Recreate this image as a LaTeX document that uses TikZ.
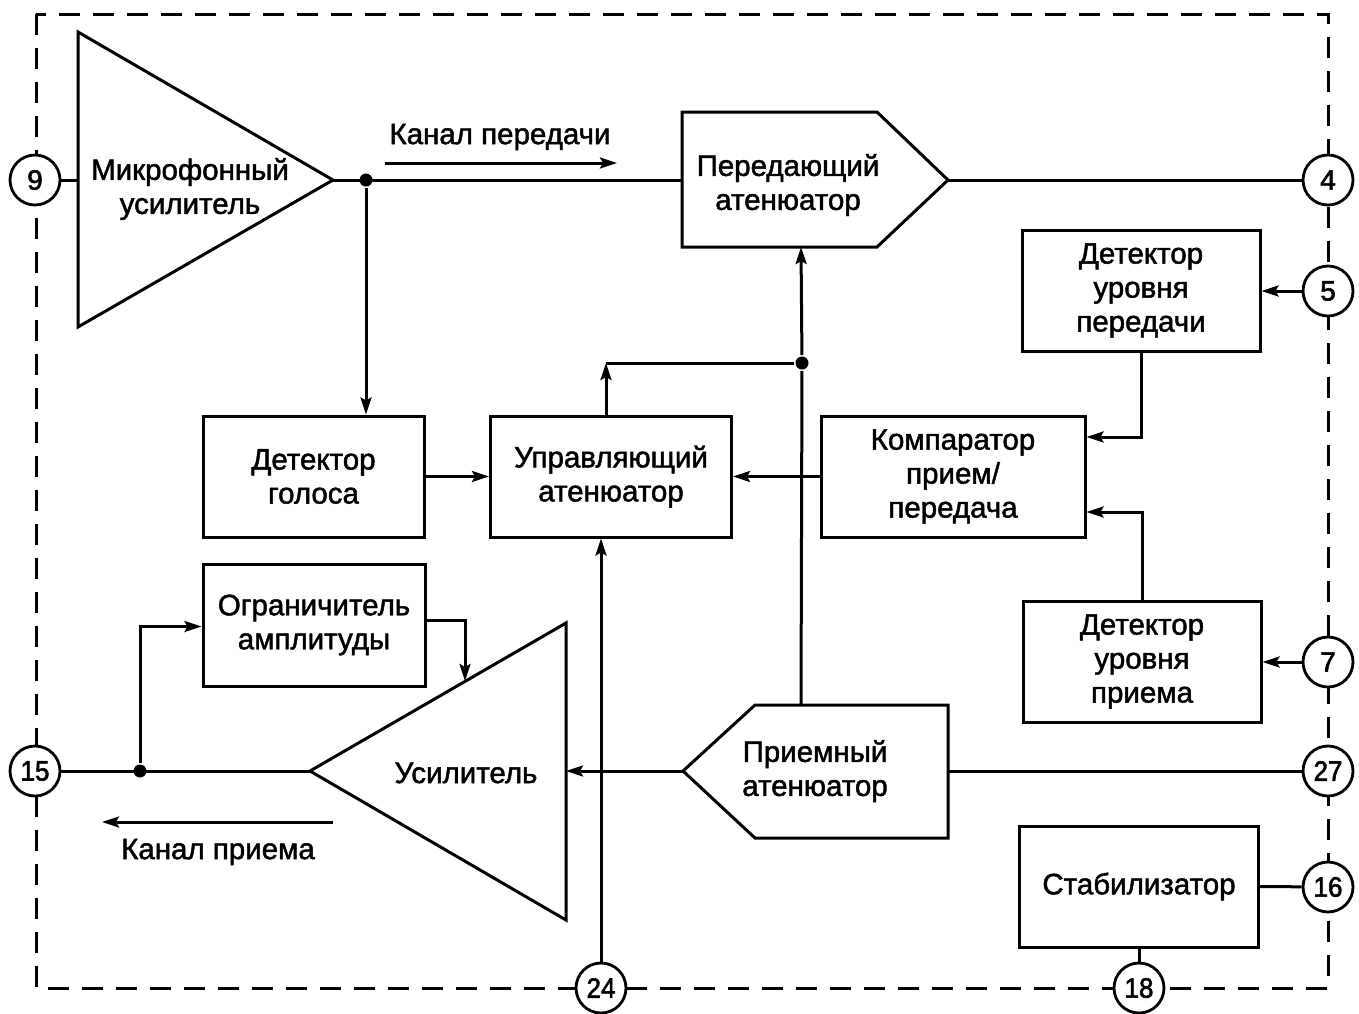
\documentclass[tikz,border=0pt]{standalone}
\usepackage{fontspec}
\setmainfont{Liberation Sans}[FakeBold=1.6]
\usetikzlibrary{arrows.meta,calc}
\newcommand{\blkfont}{\fontsize{29.5}{34}\selectfont}
\newcommand{\pinfont}{\fontsize{28}{30}\selectfont\addfontfeature{FakeBold=2.2}}
\newcommand{\nn}[1]{\scalebox{0.93}[1]{#1}}
\begin{document}
\begin{tikzpicture}[x=1pt,y=-1pt,
  line width=3pt, line join=miter,
  >={Stealth[length=17pt,width=11pt,inset=3pt]},
  blk/.style={draw, rectangle, inner sep=0pt, align=center, font=\blkfont},
  lbl/.style={inner sep=0pt, align=center, font=\blkfont},
  pinc/.style={draw, circle, fill=white, minimum size=50pt, inner sep=0pt, line width=2.8pt, font=\pinfont},
  jdot/.style={circle, fill=black, minimum size=13pt, inner sep=0pt},
  frame/.style={dash pattern=on 21pt off 13pt, line width=3pt},
]
\useasboundingbox (0,0) rectangle (1359,1013);

% dashed border
\draw[frame] (36,14) rectangle (1328,988);

% microphone amplifier
\draw (78,32) -- (333,180) -- (78,327) -- cycle;
\coordinate (micW) at (78,180);
\coordinate (micTip) at (333,180);
\node[lbl] (micL) at (190,189) {Микрофонный\\усилитель};

% transmit attenuator
\draw (682,112) -- (877,112) -- (948,180) -- (877,247) -- (682,247) -- cycle;
\coordinate (txW) at (682,180);
\coordinate (txTip) at (948,180);
\coordinate (txB) at (801,247);
\node[lbl] (txL) at (788,185) {Передающий\\атенюатор};

% receive attenuator
\draw (683,771) -- (755,705) -- (948,705) -- (948,838) -- (755,838) -- cycle;
\coordinate (rxTip) at (683,771);
\coordinate (rxE) at (948,771);
\coordinate (rxT) at (801,705);
\node[lbl] (rxL) at (815,771) {Приемный\\атенюатор};

% amplifier
\draw (566,623) -- (310,771) -- (566,920) -- cycle;
\coordinate (ampE) at (566,771);
\coordinate (ampTip) at (310,771);
\coordinate (ampLim) at (465,681);
\node[lbl] (ampL) at (466,773) {Усилитель};

% boxes
\node[blk, minimum width=221pt, minimum height=121pt] (vd) at (313.5,476.5) {Детектор\\голоса};
\node[blk, minimum width=241pt, minimum height=121pt] (ctl) at (611,476.5) {Управляющий\\атенюатор};
\node[blk, minimum width=264pt, minimum height=121pt] (cmp) at (953,476.5) {Компаратор\\прием/\\передача};
\node[blk, minimum width=238pt, minimum height=121pt] (dtx) at (1141,290.5) {Детектор\\уровня\\передачи};
\node[blk, minimum width=238pt, minimum height=121pt] (drx) at (1142,661.5) {Детектор\\уровня\\приема};
\node[blk, minimum width=222pt, minimum height=122pt] (lim) at (314,625) {Ограничитель\\амплитуды};
\node[blk, minimum width=239pt, minimum height=121pt] (stab) at (1139,886.5) {Стабилизатор};

% pins
\node[pinc] (p9) at (35,180) {9};
\node[pinc] (p15) at (35,771) {\nn{15}};
\node[pinc] (p4) at (1328,180) {4};
\node[pinc] (p5) at (1328,291) {5};
\node[pinc] (p7) at (1328,662) {7};
\node[pinc] (p27) at (1328,771) {\nn{27}};
\node[pinc] (p16) at (1328,887) {\nn{16}};
\node[pinc] (p24) at (601,988) {\nn{24}};
\node[pinc] (p18) at (1139,988) {\nn{18}};

% junctions
\node[jdot] (j1) at (366,180) {};
\node[jdot] (j2) at (802,363) {};
\node[jdot] (j3) at (140,771) {};
\coordinate (ctlUp) at (606,363);

% connectors
\draw (p9) -- (micW);
\draw (micTip) -- (txW);
\draw[->] (j1) -- (j1 |- vd.north);
\draw (txTip) -- (p4);
\draw[->] (p5) -- (p5 -| dtx.east);
\draw[->] (dtx.south) |- ([yshift=39.5pt]cmp.east);
\draw[->] (drx.north) |- ([yshift=-35.5pt]cmp.east);
\draw[->] (p7) -- (p7 -| drx.east);
\draw[->] (cmp.west) -- (ctl.east);
\draw[->] (vd.east) -- (ctl.west);
\draw[->] (ctlUp |- ctl.north) -- (ctlUp);
\draw (ctlUp) -- (j2);
\draw[->] (j2) -- (txB);
\draw (j2) -- (rxT);
\draw (p27) -- (rxE);
\draw[->] (rxTip) -- (ampE);
\draw (ampTip) -- (p15);
\draw[->] (j3) |- ([yshift=-1.5pt]lim.west);
\draw[->] ([yshift=5pt]lim.east) -| (ampLim);
\draw[->] (p24) -- (p24 |- ctl.south);
\draw (stab.east) -- (p16);
\draw (stab.south) -- (p18);

% channel labels
\coordinate (ktxA) at (385,163);
\coordinate (ktxB) at (617,163);
\draw[->] (ktxA) -- (ktxB);
\node[lbl] (ktx) at (500,137) {Канал передачи};
\coordinate (krxA) at (333,822);
\coordinate (krxB) at (102,822);
\draw[->] (krxA) -- (krxB);
\node[lbl] (krx) at (218,852) {Канал приема};
\end{tikzpicture}
\end{document}
